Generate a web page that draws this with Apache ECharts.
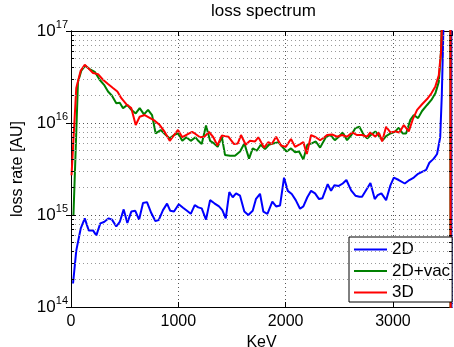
<!DOCTYPE html>
<html>
<head>
<meta charset="utf-8">
<script src="https://cdn.jsdelivr.net/npm/echarts@6/dist/echarts.min.js"></script>
<style>html,body{margin:0;padding:0;background:#fff}#c{width:454px;height:347px}</style>
</head>
<body>
<div id="c"></div>
<script>
// ---- data (KeV, loss rate [AU]) ----
const seriesNames = ['2D', '2D+vac', '3D'];
const xTicks = [0, 1000, 2000, 3000];
const yDecades = [14, 15, 16, 17];

const blueX = [19,49,90,128,165,205,236,273,308,351,382,422,454,491,525,562,599,634,671,708,748,786,817,857,895,925,960,1004,1044,1081,1116,1153,1186,1218,1258,1296,1336,1379,1410,1442,1475,1507,1538,1575,1615,1652,1693,1724,1761,1792,1830,1876,1911,1948,1985,2020,2057,2094,2134,2165,2202,2237,2274,2311,2342,2370,2392,2423,2454,2495,2532,2566,2610,2650,2687,2712,2759,2790,2830,2858,2892,2936,2976,3008,3054,3110,3153,3194,3234,3271,3309,3339,3380,3411,3440,3455,3465,3478,3510,3543,3547];
const blueY = [1.8e14,4.1e14,7.1e14,9.2e14,6.8e14,6.8e14,6.0e14,8.1e14,8.4e14,9.2e14,8.9e14,7.5e14,8.4e14,1.15e15,8.2e14,1.09e15,1.11e15,8.9e14,1.35e15,1.38e15,1.05e15,8.6e14,8.8e14,1.13e15,1.33e15,1.11e15,1.09e15,1.31e15,1.2e15,1.11e15,1.03e15,1.28e15,1.21e15,1.18e15,8.9e14,1.45e15,1.34e15,1.24e15,1.13e15,9.2e14,1.77e15,1.56e15,1.72e15,1.62e15,1.09e15,1.0e15,1.11e15,1.5e15,1.7e15,1.09e15,1.03e15,1.4e15,1.24e15,1.27e15,2.54e15,1.83e15,1.69e15,1.45e15,1.17e15,1.24e15,1.56e15,1.83e15,1.72e15,1.49e15,1.52e15,1.85e15,2.16e15,1.83e15,2.1e15,2.07e15,2.2e15,2.4e15,1.85e15,1.62e15,1.58e15,1.58e15,1.94e15,2.23e15,1.49e15,1.64e15,1.72e15,1.45e15,2.1e15,2.55e15,2.4e15,2.2e15,2.4e15,2.55e15,2.8e15,2.95e15,3.1e15,3.7e15,4.1e15,4.6e15,7e15,2e16,6e16,3e17,8e17,1e18,1e10];

const greenX = [23,65,96,133,174,221,267,308,345,382,422,454,485,525,562,603,640,680,718,755,789,836,879,920,960,997,1037,1075,1116,1160,1186,1218,1258,1296,1333,1367,1405,1435,1482,1528,1575,1615,1659,1693,1731,1768,1808,1845,1885,1932,1969,2010,2050,2088,2125,2165,2202,2243,2281,2321,2377,2417,2458,2495,2532,2572,2612,2650,2687,2728,2759,2799,2836,2873,2905,2936,2976,3017,3054,3091,3122,3162,3194,3234,3271,3318,3358,3395,3427,3448,3462,3500,3534,3538];
const greenY = [1.0e15,2.8e16,3.7e16,4.2e16,3.85e16,3.6e16,2.95e16,2.6e16,2.2e16,1.98e16,1.64e16,1.66e16,1.45e16,1.57e16,1.39e16,1.27e16,1.45e16,1.24e16,1.39e16,1.22e16,7.7e15,8.4e15,7.5e15,6.8e15,7.4e15,7.7e15,6.4e15,7.0e15,6.4e15,7.0e15,6.4e15,5.9e15,9.4e15,6.4e15,6.0e15,5.5e15,7.1e15,4.5e15,4.4e15,4.4e15,4.9e15,6.0e15,4.1e15,5.3e15,5.0e15,5.8e15,5.2e15,5.8e15,6.0e15,6.2e15,5.5e15,4.9e15,5.3e15,4.8e15,4.9e15,4.0e15,5.8e15,6.0e15,6.3e15,5.4e15,7.1e15,7.4e15,6.5e15,7.1e15,7.9e15,6.5e15,7.4e15,8.8e15,9.1e15,7.4e15,6.8e15,7.5e15,8.1e15,7.1e15,6.5e15,7.2e15,7.7e15,8.0e15,8.9e15,7.7e15,7.7e15,1.08e16,1.22e16,1.13e16,1.35e16,1.57e16,1.78e16,2.1e16,2.8e16,6e16,3e17,8e17,1e18,1e10];

const redX = [5,49,90,128,165,205,252,298,345,391,432,469,515,562,603,640,687,733,780,827,873,920,960,997,1037,1084,1128,1160,1202,1242,1286,1326,1364,1405,1435,1466,1519,1554,1584,1628,1668,1715,1746,1799,1839,1871,1911,1957,2001,2050,2088,2134,2165,2197,2237,2281,2321,2361,2386,2432,2479,2526,2572,2619,2666,2712,2759,2790,2836,2868,2899,2936,2976,3023,3060,3101,3147,3185,3225,3271,3318,3358,3395,3427,3448,3467,3500,3535,3539];
const redY = [2.7e15,2.4e16,3.7e16,4.3e16,3.9e16,3.5e16,3.4e16,2.95e16,2.65e16,2.4e16,2.2e16,1.86e16,1.6e16,1.45e16,9.5e15,1.17e16,1.22e16,1.14e16,1.06e16,9.5e15,8.0e15,6.4e15,7.4e15,8.4e15,7.0e15,7.5e15,8.0e15,7.6e15,7.0e15,7.1e15,8.0e15,7.0e15,5.7e15,7.3e15,7.2e15,7.1e15,5.9e15,6.0e15,7.4e15,5.8e15,6.4e15,6.3e15,7.0e15,5.4e15,6.2e15,5.9e15,7.1e15,5.7e15,5.5e15,6.7e15,5.5e15,5.9e15,6.2e15,4.6e15,7.4e15,7.0e15,6.5e15,7.0e15,7.4e15,7.5e15,7.1e15,7.4e15,7.1e15,7.9e15,7.4e15,7.4e15,7.1e15,7.9e15,7.1e15,7.9e15,6.3e15,9.1e15,7.9e15,8.1e15,7.9e15,9.5e15,8.1e15,1.1e16,1.39e16,1.6e16,1.82e16,2.1e16,2.5e16,3.3e16,6.0e16,3e17,8e17,1e18,1e10];

// ---- chart ----
const FONT = '"Liberation Sans", Arial, Helvetica, sans-serif';
const X_MIN = 0, X_MAX = 3550;
const pairs = (xs, ys) => xs.map((x, i) => [x, ys[i]]);
const minorVals = [];
for (let e = yDecades[0]; e < yDecades[yDecades.length - 1]; e++) {
  for (let m = 2; m <= 9; m++) minorVals.push(m * Math.pow(10, e));
}
const minorGrid = minorVals.map(v => ({ yAxis: v }));
// short inward minor tick marks on left and right axes (length as fraction of x range)
const tickLen = (X_MAX - X_MIN) * 0.008;
const minorTicks = [];
minorVals.forEach(v => {
  minorTicks.push([{ coord: [X_MIN, v] }, { coord: [X_MIN + tickLen, v] }]);
  minorTicks.push([{ coord: [X_MAX - tickLen, v] }, { coord: [X_MAX, v] }]);
});
const dotStyle = { type: [1, 3], color: '#555', width: 1 };
const LEGEND_ICON = 'path://M0,0h33v2h-33z';

const chart = echarts.init(document.getElementById('c'), null, { renderer: 'canvas' });
const lineSeries = (name, xs, ys, color) => ({
  name, type: 'line', data: pairs(xs, ys), symbol: 'none', showSymbol: false,
  lineStyle: { color, width: 2 }, itemStyle: { color }, clip: true,
  animation: false, z: 3
});
const markerOnly = (name, z, markLine) => ({
  name, type: 'line', data: [], z, silent: true, markLine
});
chart.setOption({
  animation: false,
  textStyle: { fontFamily: FONT },
  title: {
    text: 'loss spectrum', left: 211, top: 3, padding: 0,
    textStyle: { fontFamily: FONT, fontSize: 17, fontWeight: 'normal', color: '#000' }
  },
  grid: { left: 71, right: 2, top: 31, bottom: 40, show: false, outerBoundsMode: 'none', containLabel: false },
  legend: {
    data: seriesNames.map(n => ({ name: n, icon: LEGEND_ICON })),
    symbolKeepAspect: true,
    orient: 'vertical', left: 349, top: 237,
    padding: [4, 2, 1, 5], itemWidth: 33, itemHeight: 14, itemGap: 4.5,
    backgroundColor: '#fff', borderColor: '#000', borderWidth: 1,
    textStyle: { fontFamily: FONT, fontSize: 17, color: '#000' }
  },
  xAxis: [{
    type: 'value', min: X_MIN, max: X_MAX, interval: 1000,
    name: 'KeV', nameLocation: 'middle', nameGap: 22,
    nameTextStyle: { fontFamily: FONT, fontSize: 16, color: '#000' },
    axisLine: { lineStyle: { color: '#000', width: 1 } },
    axisTick: { inside: true, length: 5, lineStyle: { color: '#000' } },
    axisLabel: { fontFamily: FONT, fontSize: 16, color: '#000', margin: 7, showMaxLabel: false,
      formatter: v => (xTicks.indexOf(v) >= 0 ? String(v) : '') },
    splitLine: { show: true, lineStyle: dotStyle }
  }, {
    type: 'value', min: X_MIN, max: X_MAX, interval: 1000, position: 'top',
    axisLine: { lineStyle: { color: '#000', width: 1 } },
    axisTick: { inside: true, length: 5, lineStyle: { color: '#000' } },
    axisLabel: { show: false }, splitLine: { show: false }
  }],
  yAxis: [{
    type: 'log', logBase: 10, min: 1e14, max: 1e17,
    name: 'loss rate [AU]', nameLocation: 'middle', nameGap: 34,
    nameTextStyle: { fontFamily: FONT, fontSize: 16, color: '#000' },
    axisLine: { lineStyle: { color: '#000', width: 1 } },
    axisTick: { inside: true, length: 5, lineStyle: { color: '#000' } },
    axisLabel: {
      margin: 3, color: '#000',
      formatter: v => '{b|10}{s|' + Math.round(Math.log10(v)) + '}',
      rich: {
        b: { fontFamily: FONT, fontSize: 17, color: '#000', lineHeight: 18, verticalAlign: 'bottom' },
        s: { fontFamily: FONT, fontSize: 11, color: '#000', lineHeight: 11, padding: [0, 0, 10, 0], verticalAlign: 'bottom' }
      }
    },
    splitLine: { show: true, lineStyle: dotStyle }
  }, {
    type: 'log', logBase: 10, min: 1e14, max: 1e17, position: 'right',
    axisLine: { lineStyle: { color: '#000', width: 1 } },
    axisTick: { inside: true, length: 5, lineStyle: { color: '#000' } },
    axisLabel: { show: false }, splitLine: { show: false }
  }],
  series: [
    markerOnly('minor-grid', 1, {
      silent: true, symbol: ['none', 'none'], animation: false,
      label: { show: false }, emphasis: { disabled: true },
      lineStyle: { type: [1, 3], color: '#999', width: 1 },
      data: minorGrid
    }),
    markerOnly('minor-ticks', 2, {
      silent: true, symbol: ['none', 'none'], animation: false,
      label: { show: false }, emphasis: { disabled: true },
      lineStyle: { type: 'solid', color: '#000', width: 1 },
      data: minorTicks
    }),
    lineSeries(seriesNames[0], blueX, blueY, '#0000ff'),
    lineSeries(seriesNames[1], greenX, greenY, '#008000'),
    lineSeries(seriesNames[2], redX, redY, '#ff0000')
  ]
});
</script>
</body>
</html>
